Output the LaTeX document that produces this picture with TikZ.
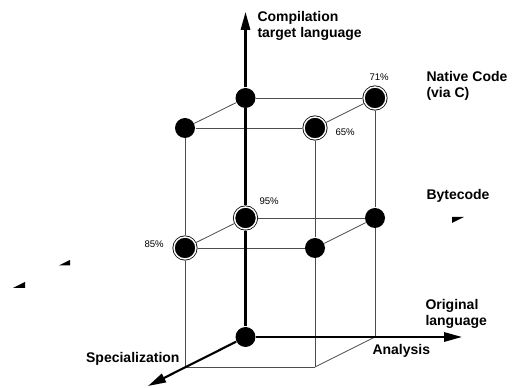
\documentclass[tikz,border=0pt]{standalone}
\usepackage{fontspec}
\setmainfont{Liberation Sans}
\usetikzlibrary{arrows.meta}

\tikzset{every picture/.style={line width=0.75pt}}
\tikzset{
  dot/.style={circle,fill=black,inner sep=0,minimum size=15pt},
  ringdot/.style={circle,fill=black,inner sep=0,minimum size=16.5pt,draw=black,double=white,double distance=1.1pt,line width=0.6pt,outer sep=1.2pt},
  edge/.style={draw=black!70,line width=0.6pt},
  axis/.style={draw=black,line width=1.6pt},
  axistip/.style={-{Triangle[length=13.5pt,width=7pt]}},
  axislabel/.style={font=\bfseries\fontsize{10.5}{12}\selectfont,inner sep=0,align=left},
  pct/.style={font=\fontsize{7.2}{8}\selectfont,inner sep=0}
}

\begin{document}
\begin{tikzpicture}[x=0.75pt,y=0.75pt,yscale=-1,xscale=1]
	\useasboundingbox (0,0) rectangle (515,388);

	%Shape: Dots, top layer
	\node [dot] (tbl) at (245.5,98) {};
	\node [ringdot] (tbr) at (375,98) {};
	\node [dot] (tfl) at (185,128) {};
	\node [ringdot] (tfr) at (315,128) {};
	%Shape: Dots, middle layer
	\node [ringdot] (mbl) at (245.5,218) {};
	\node [dot] (mbr) at (375,218) {};
	\node [ringdot] (mfl) at (185,248) {};
	\node [dot] (mfr) at (315,248) {};
	%Shape: Dot, origin
	\node [dot] (bbl) at (245.5,337) {};
	\coordinate (bbr) at (375,337);
	\coordinate (bfl) at (185,367);
	\coordinate (bfr) at (315,367);

	%Axis tips
	\coordinate (ytip) at (245.5,12);
	\coordinate (xtip) at (462,337);
	\coordinate (ztip) at (148,386);

	%Straight Lines: top face
	\draw [edge] (tbl) -- (tbr);
	\draw [edge] (tfl) -- (tfr);
	\draw [edge] (tbl) -- (tfl);
	\draw [edge] (tbr) -- (tfr);
	%Straight Lines: middle face
	\draw [edge] (mbl) -- (mbr);
	\draw [edge] (mfl) -- (mfr);
	\draw [edge] (mbl) -- (mfl);
	\draw [edge] (mbr) -- (mfr);
	%Straight Lines: uprights
	\draw [edge] (tfl) -- (mfl);
	\draw [edge] (mfl) -- (bfl);
	\draw [edge] (tfr) -- (mfr);
	\draw [edge] (mfr) -- (bfr);
	\draw [edge] (tbr) -- (mbr);
	\draw [edge] (mbr) -- (bbr);
	%Straight Lines: bottom face
	\draw [edge] (bfl) -- (bfr);
	\draw [edge] (bbr) -- (bfr);

	%Axes
	\draw [axis] (bbl) -- (mbl);
	\draw [axis] (mbl) -- (tbl);
	\draw [axis,axistip] (tbl) -- (ytip);
	\draw [axis,axistip] (bbl) -- (xtip);
	\draw [axis,axistip] (bbl) -- (ztip);

	%Shape: stray wedges
	\fill (59,265.5) -- (70,265.5) -- (70,260) -- cycle;
	\fill (13,288) -- (25,288) -- (25,282) -- cycle;
	\fill (452,217) -- (464,217) -- (452,223) -- cycle;

	% Text Node
	\node [axislabel,anchor=north west] (ylabel) at (257,10.5) {Compilation\\target language};
	% Text Node
	\node [axislabel,anchor=north west] (native) at (426,71) {Native Code\\(via C)};
	% Text Node
	\node [axislabel,anchor=north west] (bytecode) at (426,188.5) {Bytecode};
	% Text Node
	\node [axislabel,anchor=north west] (original) at (425,298.5) {Original\\language};
	% Text Node
	\node [axislabel,anchor=north west] (xlabel) at (372,343.5) {Analysis};
	% Text Node
	\node [axislabel,anchor=north east] (zlabel) at (180,351.5) {Specialization};
	% Text Node
	\node [pct,anchor=north west] (p71) at (369,73) {71\%};
	% Text Node
	\node [pct,anchor=north west] (p65) at (335,128) {65\%};
	% Text Node
	\node [pct,anchor=north west] (p95) at (259,197) {95\%};
	% Text Node
	\node [pct,anchor=north west] (p85) at (144,240) {85\%};

\end{tikzpicture}
\end{document}
